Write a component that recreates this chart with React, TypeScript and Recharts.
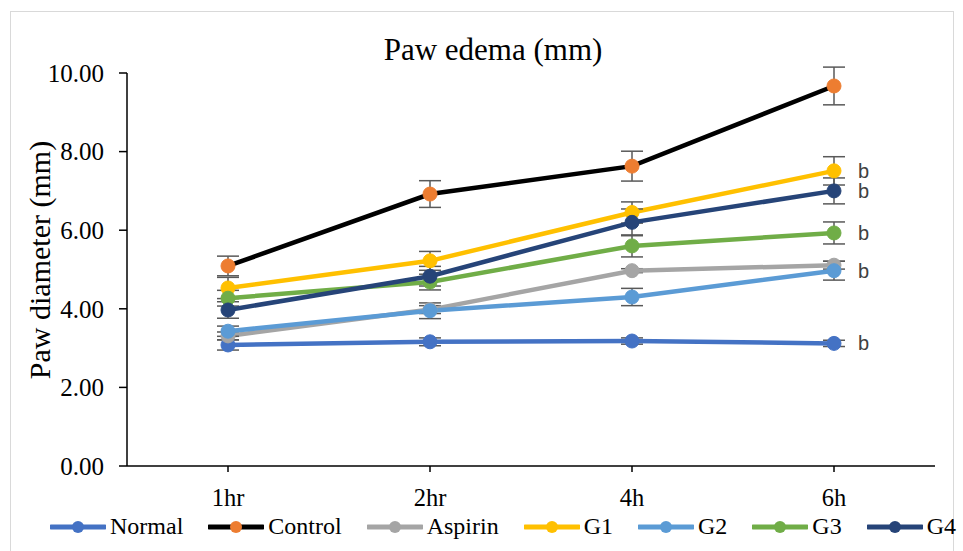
import React from "react";
import { LineChart, Line, XAxis, YAxis, ErrorBar, LabelList } from "recharts";

const categories = ["1hr", "2hr", "4h", "6h"];
const yTicks = [0, 2, 4, 6, 8, 10];

const normal = [3.08, 3.16, 3.18, 3.12];
const normalErr = [0.13, 0.1, 0.08, 0.08];
const control = [5.09, 6.92, 7.63, 9.67];
const controlErr = [0.25, 0.34, 0.38, 0.48];
const aspirin = [3.31, 3.98, 4.97, 5.11];
const aspirinErr = [0.1, 0.1, 0.05, 0.1];
const g1 = [4.53, 5.22, 6.45, 7.51];
const g1Err = [0.27, 0.24, 0.27, 0.36];
const g2 = [3.43, 3.95, 4.3, 4.97];
const g2Err = [0.13, 0.2, 0.22, 0.24];
const g3 = [4.27, 4.68, 5.6, 5.93];
const g3Err = [0.2, 0.2, 0.28, 0.28];
const g4 = [3.97, 4.83, 6.2, 7.0];
const g4Err = [0.21, 0.25, 0.34, 0.33];

const normalSig = ["", "", "", "b"];
const controlSig = ["", "", "", ""];
const aspirinSig = ["", "", "", ""];
const g1Sig = ["", "", "", "b"];
const g2Sig = ["", "", "", "b"];
const g3Sig = ["", "", "", "b"];
const g4Sig = ["", "", "", "b"];

const series = [
  { key: "Normal", values: normal, err: normalErr, sig: normalSig, line: "#4472C4", marker: "#4472C4" },
  { key: "Control", values: control, err: controlErr, sig: controlSig, line: "#000000", marker: "#ED7D31" },
  { key: "Aspirin", values: aspirin, err: aspirinErr, sig: aspirinSig, line: "#A5A5A5", marker: "#A5A5A5" },
  { key: "G1", values: g1, err: g1Err, sig: g1Sig, line: "#FFC000", marker: "#FFC000" },
  { key: "G2", values: g2, err: g2Err, sig: g2Sig, line: "#5B9BD5", marker: "#5B9BD5" },
  { key: "G3", values: g3, err: g3Err, sig: g3Sig, line: "#70AD47", marker: "#70AD47" },
  { key: "G4", values: g4, err: g4Err, sig: g4Sig, line: "#264478", marker: "#264478" },
];

const data = categories.map((c, i) => {
  const row: any = { name: c };
  series.forEach((s) => {
    row[s.key] = s.values[i];
    row[s.key + "_err"] = s.err[i];
    row[s.key + "_sig"] = s.sig[i];
  });
  return row;
});

const serif = "'Liberation Serif', 'Times New Roman', serif";

const SigLabel = (props: any) => {
  const { x, y, value } = props;
  if (!value) return null;
  return (
    <text x={x + 24} y={y} dy="0.35em" fontFamily="'Liberation Sans', Arial, sans-serif" fontSize={20} fill="#404040">
      {value}
    </text>
  );
};

const YLabel = () => (
  <text
    x={39}
    y={260}
    transform="rotate(-90 39 260)"
    textAnchor="middle"
    dominantBaseline="central"
    fontFamily={serif}
    fontSize={30}
    fill="#000"
  >
    Paw diameter (mm)
  </text>
);

export default function App() {
  return (
    <div style={{ position: "absolute", left: 0, top: 0, width: 963, height: 551, background: "#fff", overflow: "hidden" }}>
      <div
        style={{
          position: "absolute",
          left: 10,
          top: 11,
          width: 944,
          height: 560,
          border: "1.5px solid #d9d9d9",
          boxSizing: "border-box",
        }}
      />
      <div
        style={{
          position: "absolute",
          left: 0,
          width: 986,
          top: 32,
          textAlign: "center",
          fontFamily: serif,
          fontSize: 31,
          color: "#000",
        }}
      >
        Paw edema (mm)
      </div>
      <div style={{ position: "absolute", left: 0, top: 0 }}>
        <LineChart width={963} height={551} data={data} margin={{ top: 73, right: 28, left: 0, bottom: 45 }}>
          <XAxis
            dataKey="name"
            height={40}
            padding={{ left: 101, right: 101 }}
            axisLine={{ stroke: "#000", strokeWidth: 1.5 }}
            tickLine={{ stroke: "#000", strokeWidth: 1.5 }}
            tickSize={6}
            tickMargin={17}
            tick={{ fontFamily: serif, fontSize: 24.5, fill: "#000" }}
          />
          <YAxis
            width={127}
            domain={[0, 10]}
            allowDataOverflow
            ticks={yTicks}
            tickFormatter={(v: number) => v.toFixed(2)}
            axisLine={{ stroke: "#000", strokeWidth: 1.5 }}
            tickLine={{ stroke: "#000", strokeWidth: 1.5 }}
            tickSize={8}
            tickMargin={15}
            tick={{ fontFamily: serif, fontSize: 25, fill: "#000" }}
            label={<YLabel />}
          />
          {series.map((s) => (
            <Line
              key={s.key}
              dataKey={s.key}
              stroke={s.line}
              strokeWidth={4.5}
              dot={{ r: 7, fill: s.marker, stroke: s.marker, strokeWidth: 1 }}
              activeDot={false}
              isAnimationActive={false}
            >
              <ErrorBar dataKey={s.key + "_err"} width={11} stroke="#595959" strokeWidth={1.5} direction="y" />
              <LabelList dataKey={s.key + "_sig"} content={<SigLabel />} />
            </Line>
          ))}
        </LineChart>
      </div>
      <div
        style={{
          position: "absolute",
          top: 513,
          left: 50,
          width: "max-content",
          display: "flex",
          alignItems: "center",
          gap: 25,
          fontFamily: serif,
          fontSize: 24,
          color: "#000",
          whiteSpace: "nowrap",
        }}
      >
        {series.map((s) => (
          <div key={s.key} style={{ display: "flex", alignItems: "center", flexShrink: 0 }}>
            <svg width={56} height={16} style={{ marginRight: 4, flexShrink: 0 }}>
              <line x1={1} y1={8} x2={55} y2={8} stroke={s.line} strokeWidth={5} strokeLinecap="round" />
              <circle cx={28} cy={8} r={6} fill={s.marker} />
            </svg>
            <span>{s.key}</span>
          </div>
        ))}
      </div>
    </div>
  );
}
